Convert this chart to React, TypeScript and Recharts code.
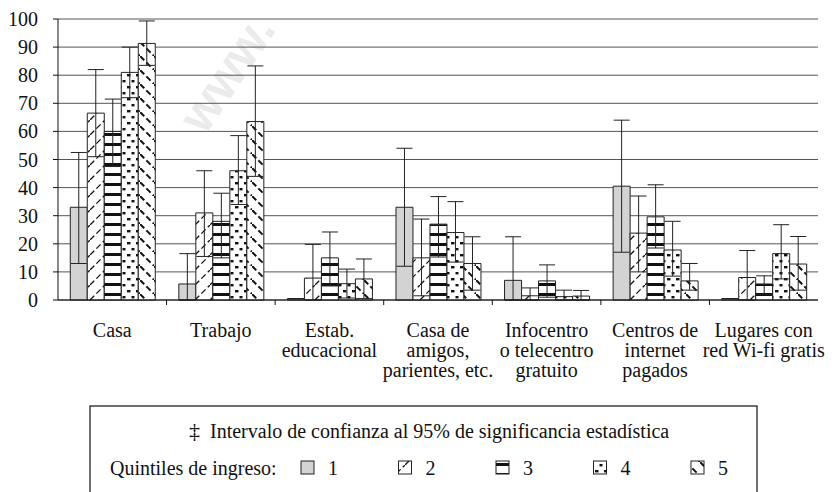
import { BarChart, Bar, XAxis, YAxis, CartesianGrid, ErrorBar } from 'recharts';

// categories (x axis) and their wrapped label lines
const categories = [
  'Casa',
  'Trabajo',
  'Estab. educacional',
  'Casa de amigos, parientes, etc.',
  'Infocentro o telecentro gratuito',
  'Centros de internet pagados',
  'Lugares con red Wi-fi gratis',
];
const categoryLines = [
  ['Casa'],
  ['Trabajo'],
  ['Estab.', 'educacional'],
  ['Casa de', 'amigos,', 'parientes, etc.'],
  ['Infocentro', 'o telecentro', 'gratuito'],
  ['Centros de', 'internet', 'pagados'],
  ['Lugares con', 'red Wi-fi gratis'],
];

// income quintiles: values (%) and 95% confidence bounds
const q1 = [33, 5.7, 0.5, 33, 7, 40.5, 0.5];
const q1Lo = [13, 0, 0.5, 12, 0, 17, 0.5];
const q1Hi = [52.5, 16.5, 0.5, 54, 22.5, 64, 0.5];

const q2 = [66.5, 31, 7.8, 15, 1.5, 23.8, 8];
const q2Lo = [51, 15.5, 0, 1.5, 0, 10, 0];
const q2Hi = [82, 46, 19.8, 28.8, 4.3, 37, 17.6];

const q3 = [60, 28, 15, 27, 6.8, 29.6, 5.7];
const q3Lo = [47.5, 15, 5, 15.3, 1, 18.5, 2];
const q3Hi = [71.5, 38, 24.2, 36.8, 12.5, 41, 8.6];

const q4 = [81, 46, 5.8, 24, 1.2, 17.8, 16.5];
const q4Lo = [72, 34, 0.7, 13.5, 0, 8.5, 7.5];
const q4Hi = [90, 58.5, 11, 35, 3.5, 28, 26.8];

const q5 = [91.3, 63.5, 7.5, 13, 1.4, 6.8, 12.8];
const q5Lo = [83.5, 44, 0.5, 3.5, 0, 3.5, 3.5];
const q5Hi = [99.3, 83.3, 14.6, 22.5, 3.4, 13, 22.6];

const quintiles = ['1', '2', '3', '4', '5'];
const yTicks = [0, 10, 20, 30, 40, 50, 60, 70, 80, 90, 100];

const series = [
  [q1, q1Lo, q1Hi],
  [q2, q2Lo, q2Hi],
  [q3, q3Lo, q3Hi],
  [q4, q4Lo, q4Hi],
  [q5, q5Lo, q5Hi],
];

const data = categories.map((name, i) => {
  const row: { [key: string]: any } = { name };
  series.forEach(([v, lo, hi], s) => {
    row[`q${s + 1}`] = v[i];
    row[`e${s + 1}`] = [v[i] - lo[i], hi[i] - v[i]];
  });
  return row;
});

const SERIF = 'Liberation Serif, Tinos, DejaVu Serif, serif';
const W = 840;
const H = 492;
const PLOT_LEFT = 58;
const PLOT_RIGHT = 818;
const HALF_BAND = (PLOT_RIGHT - PLOT_LEFT) / categories.length / 2;

const Patterns = ({ prefix }: { prefix: string }) => (
  <defs>
    <pattern id={`${prefix}1`} patternUnits="userSpaceOnUse" width="8" height="8">
      <rect width="8" height="8" fill="#d3d3d3" />
    </pattern>
    <pattern id={`${prefix}2`} patternUnits="userSpaceOnUse" width="15" height="15">
      <rect width="15" height="15" fill="#fff" />
      <line x1="0" y1="15" x2="15" y2="0" stroke="#111" strokeWidth="1.3" strokeDasharray="6 3" />
    </pattern>
    <pattern id={`${prefix}3`} patternUnits="userSpaceOnUse" width="8" height="10">
      <rect width="8" height="10" fill="#fff" />
      <rect x="0" y="3" width="8" height="3" fill="#111" />
    </pattern>
    <pattern id={`${prefix}4`} patternUnits="userSpaceOnUse" width="9" height="12">
      <rect width="9" height="12" fill="#fff" />
      <rect x="1" y="2" width="3.5" height="2.4" fill="#111" />
      <rect x="5.5" y="8" width="3" height="2.4" fill="#111" />
    </pattern>
    <pattern id={`${prefix}5`} patternUnits="userSpaceOnUse" width="14" height="14">
      <rect width="14" height="14" fill="#fff" />
      <line x1="0" y1="0" x2="14" y2="14" stroke="#111" strokeWidth="2" strokeDasharray="6 3" />
    </pattern>
  </defs>
);

const XTick = (props: any) => {
  const { x, y, payload } = props;
  const idx = categories.indexOf(payload.value);
  const lines = categoryLines[idx] || [payload.value];
  return (
    <g>
      {idx > 0 && (
        <line x1={x - HALF_BAND} y1={y} x2={x - HALF_BAND} y2={y + 5} stroke="#111" strokeWidth={1} />
      )}
      <text x={x} y={y} textAnchor="middle" style={{ fontFamily: SERIF }} fontSize={20} fill="#111">
        {lines.map((l, i) => (
          <tspan key={i} x={x} y={y + 37 + i * 20}>
            {l}
          </tspan>
        ))}
      </text>
    </g>
  );
};

const YTick = (props: any) => {
  const { x, y, payload } = props;
  return (
    <text x={x} y={y} dy={7} textAnchor="end" style={{ fontFamily: SERIF }} fontSize={20} fill="#111">
      {payload.value}
    </text>
  );
};

export default function App() {
  return (
    <div style={{ position: 'relative', width: W, height: H, overflow: 'hidden', background: '#fff', fontFamily: SERIF }}>
      <style>{`body{margin:0;}`}</style>
      {/* faint watermark behind the chart */}
      <svg width={W} height={H} style={{ position: 'absolute', left: 0, top: 0 }}>
        <text
          x={0}
          y={0}
          transform="translate(205 136) rotate(-56)"
          style={{ fontFamily: 'Liberation Sans, Arial, sans-serif' }}
          fontWeight="bold"
          fontSize={50}
          fill="#ebebeb"
        >
          www.
        </text>
      </svg>

      <div style={{ position: 'relative' }}>
        <BarChart
          width={W}
          height={H}
          data={data}
          margin={{ top: 19, right: W - PLOT_RIGHT, left: 0, bottom: 0 }}
          barCategoryGap="11.3%"
          barGap={0}
        >
          <Patterns prefix="pat" />
          <CartesianGrid vertical={false} stroke="#555" strokeWidth={1} />
          <XAxis
            dataKey="name"
            height={192}
            interval={0}
            tickSize={0}
            tickMargin={0}
            tickLine={false}
            axisLine={{ stroke: '#111', strokeWidth: 1 }}
            tick={<XTick />}
          />
          <YAxis
            width={PLOT_LEFT}
            domain={[0, 100]}
            ticks={yTicks}
            interval={0}
            tickSize={5}
            tickMargin={15}
            axisLine={{ stroke: '#111', strokeWidth: 1 }}
            tickLine={{ stroke: '#111', strokeWidth: 1 }}
            tick={<YTick />}
          />
          <YAxis
            yAxisId="right"
            orientation="right"
            width={0}
            domain={[0, 100]}
            tick={false}
            tickLine={false}
            axisLine={{ stroke: '#111', strokeWidth: 1 }}
          />
          {quintiles.map((q, s) => (
            <Bar
              key={q}
              dataKey={`q${s + 1}`}
              fill={`url(#pat${s + 1})`}
              stroke="#222"
              strokeWidth={1}
              isAnimationActive={false}
            >
              <ErrorBar dataKey={`e${s + 1}`} width={8} stroke="#222" strokeWidth={1} direction="y" />
            </Bar>
          ))}
        </BarChart>
      </div>

      {/* legend box */}
      <svg width={W} height={H} style={{ position: 'absolute', left: 0, top: 0, pointerEvents: 'none', fontFamily: SERIF }}>
        <Patterns prefix="leg" />
        <rect x={90} y={406} width={667} height={120} fill="#fff" stroke="#222" strokeWidth={1.3} />
        <text x={189} y={438} fontSize={22} fill="#111">
          ‡
        </text>
        <text x={210} y={438} fontSize={20} fill="#111">
          Intervalo de confianza al 95% de significancia estadística
        </text>
        <text x={110} y={475} fontSize={20} fill="#111">
          Quintiles de ingreso:
        </text>
        {quintiles.map((q, s) => {
          const sx = 301 + s * 97.5;
          return (
            <g key={q}>
              <rect x={sx} y={461} width={13} height={13} fill={`url(#leg${s + 1})`} stroke="#222" strokeWidth={1} />
              <text x={sx + 27} y={475} fontSize={20} fill="#111">
                {q}
              </text>
            </g>
          );
        })}
      </svg>
    </div>
  );
}
